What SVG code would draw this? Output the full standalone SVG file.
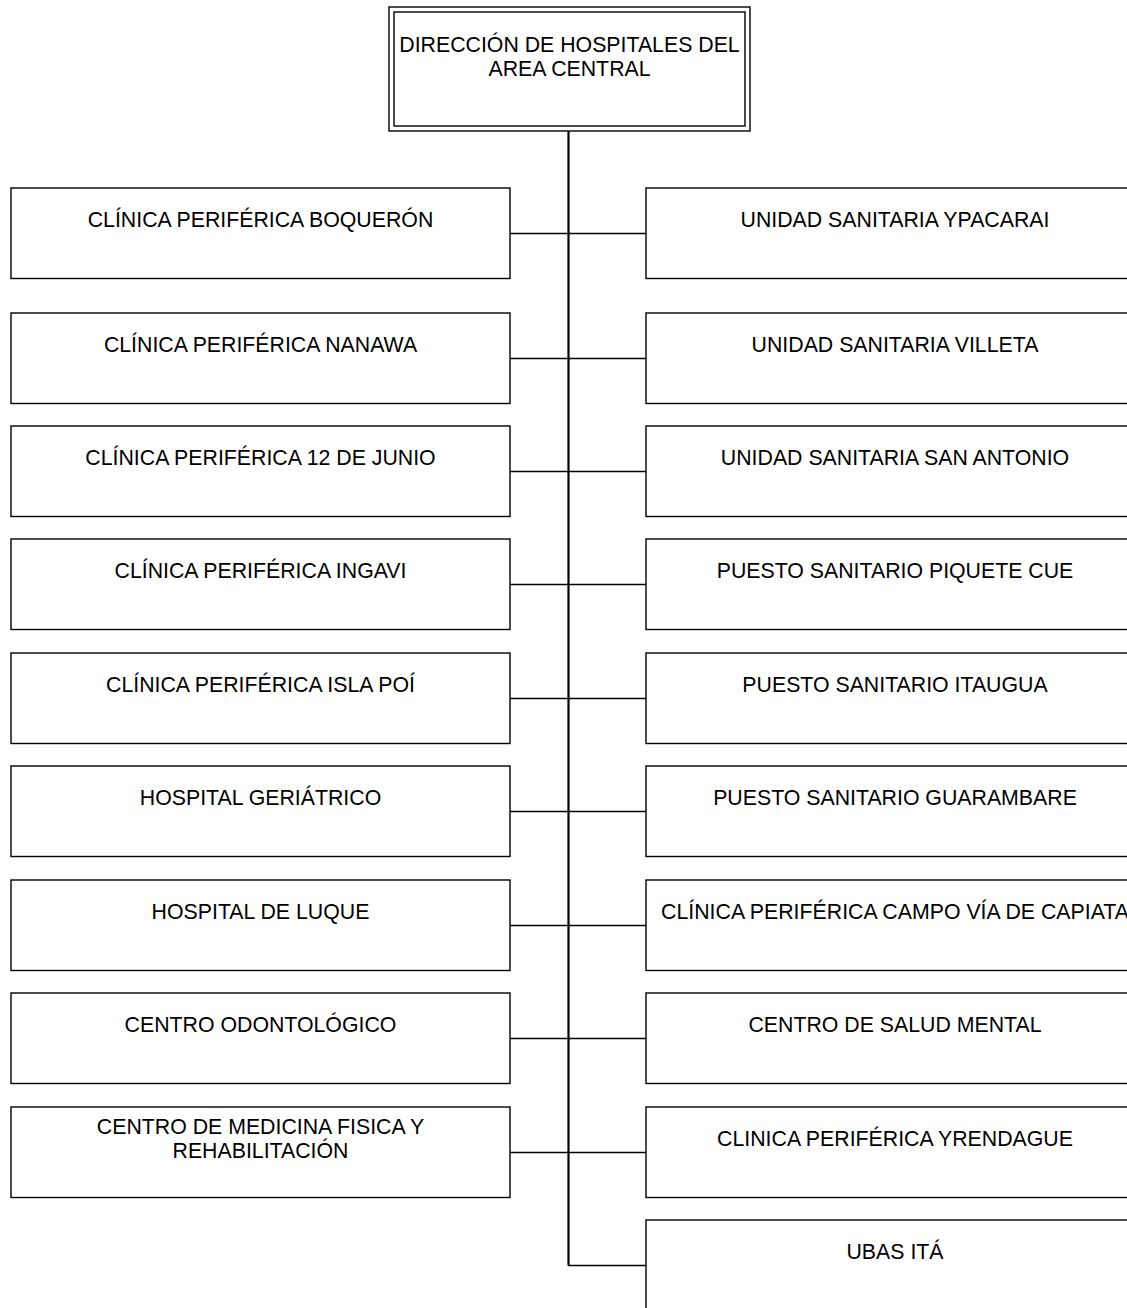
<svg xmlns="http://www.w3.org/2000/svg" width="1127" height="1308" viewBox="0 0 1127 1308">
<style>
.box{fill:#fff;stroke:#000;stroke-width:1.4}
.t{font-family:"Liberation Sans",Arial,sans-serif;font-size:21.3px;fill:#000;text-anchor:middle}
.c{fill:none;stroke:#000;stroke-width:1.4}
.trunk{fill:none;stroke:#000;stroke-width:2.2}
</style>
<rect width="1127" height="1308" fill="#fff"/>
<g id="connectors">
<path class="trunk" d="M568.5 131V1265.5"/>
<path class="c" d="M510 233.5H646M510 358.5H646M510 471.5H646M510 584.5H646M510 698.5H646M510 811.5H646M510 925.5H646M510 1038.5H646M510 1152.5H646M568 1265.5H646"/>
</g>
<g id="n0">
<rect class="box" x="389" y="7" width="361" height="124"/>
<rect class="box" x="394" y="12" width="351" height="114"/>
<text class="t" x="569.5" y="52">DIRECCIÓN DE HOSPITALES DEL</text>
<text class="t" x="569.5" y="76">AREA CENTRAL</text>
</g>
<g id="l1"><rect class="box" x="11" y="188" width="499" height="90.5"/><text class="t" x="260.5" y="227">CLÍNICA PERIFÉRICA BOQUERÓN</text></g>
<g id="l2"><rect class="box" x="11" y="313" width="499" height="90.5"/><text class="t" x="260.5" y="352">CLÍNICA PERIFÉRICA NANAWA</text></g>
<g id="l3"><rect class="box" x="11" y="426" width="499" height="90.5"/><text class="t" x="260.5" y="465">CLÍNICA PERIFÉRICA 12 DE JUNIO</text></g>
<g id="l4"><rect class="box" x="11" y="539" width="499" height="90.5"/><text class="t" x="260.5" y="578">CLÍNICA PERIFÉRICA INGAVI</text></g>
<g id="l5"><rect class="box" x="11" y="653" width="499" height="90.5"/><text class="t" x="260.5" y="692">CLÍNICA PERIFÉRICA ISLA POÍ</text></g>
<g id="l6"><rect class="box" x="11" y="766" width="499" height="90.5"/><text class="t" x="260.5" y="805">HOSPITAL GERIÁTRICO</text></g>
<g id="l7"><rect class="box" x="11" y="880" width="499" height="90.5"/><text class="t" x="260.5" y="919">HOSPITAL DE LUQUE</text></g>
<g id="l8"><rect class="box" x="11" y="993" width="499" height="90.5"/><text class="t" x="260.5" y="1032">CENTRO ODONTOLÓGICO</text></g>
<g id="l9"><rect class="box" x="11" y="1107" width="499" height="90.5"/><text class="t" x="260.5" y="1134">CENTRO DE MEDICINA FISICA Y</text><text class="t" x="260.5" y="1158">REHABILITACIÓN</text></g>
<g id="r1"><rect class="box" x="646" y="188" width="498" height="90.5"/><text class="t" x="895" y="227">UNIDAD SANITARIA YPACARAI</text></g>
<g id="r2"><rect class="box" x="646" y="313" width="498" height="90.5"/><text class="t" x="895" y="352">UNIDAD SANITARIA VILLETA</text></g>
<g id="r3"><rect class="box" x="646" y="426" width="498" height="90.5"/><text class="t" x="895" y="465">UNIDAD SANITARIA SAN ANTONIO</text></g>
<g id="r4"><rect class="box" x="646" y="539" width="498" height="90.5"/><text class="t" x="895" y="578">PUESTO SANITARIO PIQUETE CUE</text></g>
<g id="r5"><rect class="box" x="646" y="653" width="498" height="90.5"/><text class="t" x="895" y="692">PUESTO SANITARIO ITAUGUA</text></g>
<g id="r6"><rect class="box" x="646" y="766" width="498" height="90.5"/><text class="t" x="895" y="805">PUESTO SANITARIO GUARAMBARE</text></g>
<g id="r7"><rect class="box" x="646" y="880" width="498" height="90.5"/><text class="t" x="895" y="919">CLÍNICA PERIFÉRICA CAMPO VÍA DE CAPIATA</text></g>
<g id="r8"><rect class="box" x="646" y="993" width="498" height="90.5"/><text class="t" x="895" y="1032">CENTRO DE SALUD MENTAL</text></g>
<g id="r9"><rect class="box" x="646" y="1107" width="498" height="90.5"/><text class="t" x="895" y="1146">CLINICA PERIFÉRICA YRENDAGUE</text></g>
<g id="r10"><rect class="box" x="646" y="1220" width="498" height="120"/><text class="t" x="895" y="1259">UBAS ITÁ</text></g>
</svg>
